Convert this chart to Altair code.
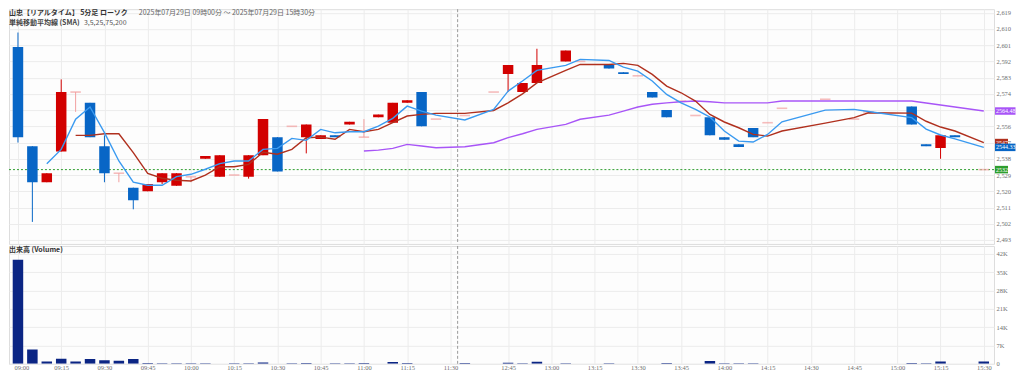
import altair as alt
import pandas as pd

# ---------------- data ----------------
morning = [f"{h:02d}:{m:02d}" for h in (9, 10, 11) for m in range(0, 60, 5) if (h, m) <= (11, 30)]
afternoon = [f"{h:02d}:{m:02d}" for h in (12, 13, 14, 15) for m in range(0, 60, 5)
             if (12, 30) <= (h, m) <= (15, 30)]
times = morning + afternoon  # 68 five-minute slots

open_ = [2600, 2545, 2525, 2542, 2575, 2569, 2545, 2530, 2522, 2520,
         2525, 2523, 2528, 2538, 2528, 2529, 2528, 2540, 2550, 2556,
         2550, 2549, 2551, 2557, 2550, 2561, 2558, 2569, 2575, 2560,
         None, 2562, None, 2575, 2585, 2575, 2580, None, 2592, 2592,
         None, 2590, 2586, 2584, 2575, 2565, 2570, 2562, 2561, 2550,
         2546, 2555, 2558, 2566, None, None, 2571, None, 2560, 2564,
         None, None, 2567, 2546, 2544, 2551, None, 2532]
high = [2608, 2545, 2530, 2582, 2575, 2569, 2551, 2530, 2522, 2524,
        2530, 2530, 2528, 2539.5, 2540, 2529, 2540, 2560, 2550, 2556,
        2557, 2551, 2551, 2558.5, 2560, 2562.5, 2569, 2570.5, 2575, 2560,
        None, 2562, None, 2575, 2590, 2580, 2599, None, 2598, 2592,
        None, 2590, 2586, 2584, 2575, 2565, 2570, 2562, 2561, 2550,
        2546, 2555, 2558, 2566, None, None, 2571, None, 2560, 2564,
        None, None, 2567, 2546, 2551, 2551, None, 2532]
low = [2547, 2503, 2525, 2542, 2564, 2550, 2525, 2525, 2510, 2520,
       2524, 2523, 2525, 2538, 2528, 2529, 2527, 2540, 2531, 2556,
       2541, 2549, 2550, 2557, 2550, 2561, 2558, 2569, 2556, 2560,
       None, 2562, None, 2575, 2575, 2575, 2580, None, 2592, 2592,
       None, 2588, 2585, 2584, 2572, 2561, 2570, 2562, 2551, 2548.5,
       2544.5, 2550, 2558, 2566, None, None, 2571, None, 2560, 2564,
       None, None, 2557, 2545, 2538, 2550, None, 2532]
close = [2550, 2525, 2530, 2575, 2575, 2550, 2530, 2530, 2515, 2524,
         2530, 2530, 2528, 2539.5, 2540, 2529, 2540, 2560, 2531, 2556,
         2557, 2551, 2550, 2558.5, 2550, 2562.5, 2569, 2570.5, 2556, 2560,
         None, 2562, None, 2575, 2590, 2580, 2590, None, 2598, 2592,
         None, 2588, 2585, 2584, 2572, 2561, 2570, 2562, 2551, 2548.5,
         2544.5, 2550, 2558, 2566, None, None, 2571, None, 2560, 2564,
         None, None, 2557, 2545, 2551, 2550, None, 2532]

sma3 = [None, None, 2535.3, 2543.2, 2559.9, 2566.7, 2552.5, 2536.8, 2525.1, 2523.3,
        2523.3, 2528.1, 2529.4, 2532.2, 2535.3, 2536.8, 2536.8, 2543.2, 2543.8, 2549.3,
        2548.2, 2554.3, 2552.4, 2553.0, 2553.0, 2556.1, 2560.4, 2567.2, 2564.4, 2562.2,
        None, 2559.5, None, 2565.4, 2575.5, 2581.1, 2587.0, None, 2589.8, 2593.1,
        None, 2592.5, 2588.8, 2586.6, 2581.1, 2573.7, 2569.0, 2565.4, 2561.1, 2553.4,
        2547.8, 2547.3, 2551.5, 2558.5, None, None, 2565.0, None, 2565.4, 2564.2,
        None, None, 2560.8, 2554.5, 2551.2, 2549.0, None, 2544.33]
sma5 = [None, None, None, None, 2551.0, 2551.0, 2551.9, 2551.9, 2541.4, 2529.9,
        2527.2, 2526.1, 2525.7, 2529.0, 2533.6, 2533.6, 2534.9, 2541.6, 2540.5, 2543.2,
        2549.7, 2550.0, 2548.8, 2554.3, 2553.0, 2554.3, 2558.0, 2561.7, 2562.6, 2563.2,
        None, 2563.2, None, 2564.8, 2569.0, 2574.0, 2580.1, None, 2587.0, 2590.3,
        None, 2590.3, 2590.9, 2589.8, 2584.8, 2578.3, 2574.6, 2570.0, 2562.6, 2558.4,
        2555.2, 2551.5, 2550.6, 2553.4, None, None, 2557.8, None, 2560.8, 2563.5,
        None, None, 2563.3, 2558.8, 2555.6, 2553.4, None, 2547.0]
sma25 = [None] * 24 + [
        2542.3, 2542.8, 2543.8, 2546.0, 2545.1, 2544.1,
        None, 2544.7, None, 2546.9, 2549.7, 2551.9, 2554.3, None, 2557.1, 2559.9,
        None, 2562.2, 2564.4, 2566.7, 2568.2, 2569.0, 2569.6, 2570.0, 2569.6, 2569.0,
        2569.0, 2569.0, 2569.0, 2570.0, None, None, 2570.0, None, 2570.0, 2570.0,
        None, None, 2570.0, 2568.9, 2567.8, 2566.7, None, 2564.48]

volume = [39800, 5500, 900, 1900, 900, 1800, 1400, 1150, 1800, 300,
          250, 200, 200, 250, 0, 200, 250, 500, 0, 250,
          300, 0, 250, 250, 300, 0, 700, 300, 0, 0,
          0, 350, 0, 0, 450, 200, 800, 0, 200, 0,
          0, 200, 0, 0, 0, 300, 0, 0, 1100, 200,
          200, 200, 0, 0, 0, 0, 0, 0, 0, 0,
          0, 0, 300, 200, 900, 0, 0, 900]

label_idx = [0, 3, 6, 9, 12, 15, 18, 21, 24, 27, 30, 34, 37, 40, 43, 46, 49, 52, 55, 58, 61, 64, 67]
session_break = 30.5
last_price = 2532
price_ticks = list(range(2493, 2620, 9))
vol_ticks = list(range(0, 42001, 7000))

tag_text = ["2564.48", "2547", "2544.33", "2532"]
tag_value = [2564.48, 2547.0, 2544.33, 2532.0]

title_main = "山忠【リアルタイム】 5分足 ローソク"
title_range = "2025年07月29日 09時00分 ～ 2025年07月29日 15時30分"
title_sma = "単純移動平均線 (SMA)"
title_sma_list = "3,5,25,75,200"
title_vol = "出来高 (Volume)"

for arr in (open_, high, low, close, sma3, sma5, sma25, volume):
    assert len(arr) == len(times)

# ---------------- tables ----------------
candles = pd.DataFrame({"i": range(len(times)), "t": times, "open": open_,
                        "high": high, "low": low, "close": close}).dropna()
candles["dir"] = ["up" if c > o else ("down" if c < o else "doji")
                  for o, c in zip(candles["open"], candles["close"])]

def series_df(arr):
    return pd.DataFrame([{"i": i, "v": v} for i, v in enumerate(arr) if v is not None])

vol_df = pd.DataFrame({"i": range(len(times)), "vol": volume})
tags = pd.DataFrame({"txt": tag_text, "v": tag_value})
one = pd.DataFrame({"k": [0]})

# ---------------- styles ----------------
RED = "#d20000"
BLUE = "#0866c6"
PINK = "#f2a0a0"
C3 = "#3a9af0"
C5 = "#b0301e"
C25 = "#a855f7"
GREEN = "#2e9e2e"
NAVY = "#0b2584"
GRID = "#ececec"
LBL = "#6f6f6f"
NUMFONT = "Liberation Serif"
JPFONT = "Noto Sans CJK JP"

W = 986
H_PRICE = 235
H_VOL = 118
xs = alt.Scale(domain=[-0.275, 67.363], nice=False, zero=False)
ys = alt.Scale(domain=[2490.79, 2620.94], nice=False, zero=False)
vs = alt.Scale(domain=[0, 45055], nice=False, zero=True)

arr_js = "[" + ",".join(f"'{t}'" for t in times) + "]"

x_axis_price = alt.Axis(values=label_idx, labels=False, ticks=False, domain=False,
                        grid=True, gridColor=GRID, title=None)
y_axis_price = alt.Axis(orient="right", values=price_ticks, labelFontSize=6.5, labelColor=LBL,
                        labelFont=NUMFONT, ticks=False, domain=False, grid=True,
                        gridColor=GRID, labelPadding=2, title=None)
x_axis_vol = alt.Axis(values=label_idx, labelExpr=f"{arr_js}[datum.value]", ticks=False,
                      domain=False, grid=True, gridColor=GRID, title=None,
                      labelFontSize=6.5, labelColor=LBL, labelFont=NUMFONT, labelPadding=1,
                      labelAlign={"condition": {"test": "datum.value == 0", "value": "left"},
                                  "value": "center"},
                      labelOffset={"condition": {"test": "datum.value == 0", "value": -4},
                                   "value": 0})
y_axis_vol = alt.Axis(orient="right", values=vol_ticks,
                      labelExpr="datum.value == 0 ? '0' : (datum.value / 1000) + 'K'",
                      labelFontSize=6.5, labelColor=LBL, labelFont=NUMFONT, ticks=False,
                      domain=False, grid=True, gridColor=GRID, labelPadding=2, title=None)

X = alt.X("i:Q", scale=xs, axis=x_axis_price)

def Y(field):
    return alt.Y(f"{field}:Q", scale=ys, axis=y_axis_price)

layers = []
# current price line
layers.append(alt.Chart(one).mark_rule(color=GREEN, strokeDash=[2, 2], strokeWidth=1)
              .encode(y=alt.Y(datum=last_price, scale=ys, axis=y_axis_price)))
# session break
layers.append(alt.Chart(one).mark_rule(color="#9a9a9a", strokeDash=[3, 2], strokeWidth=1)
              .encode(x=alt.X(datum=session_break, scale=xs, axis=x_axis_price)))
# wicks and bodies
for kind, col in (("up", RED), ("down", BLUE), ("doji", PINK)):
    layers.append(alt.Chart(candles).transform_filter(alt.datum.dir == kind)
                  .mark_rule(color=col, strokeWidth=1)
                  .encode(x=X, y=Y("low"), y2="high:Q"))
for kind, col in (("up", RED), ("down", BLUE)):
    layers.append(alt.Chart(candles).transform_filter(alt.datum.dir == kind)
                  .mark_bar(color=col, size=10.5, clip=True)
                  .encode(x=X, y=Y("open"), y2="close:Q"))
layers.append(alt.Chart(candles).transform_filter(alt.datum.dir == "doji")
              .mark_tick(color=PINK, orient="horizontal", size=10.5, thickness=1.6)
              .encode(x=X, y=Y("close")))
# moving averages
for arr, col in ((sma25, C25), (sma5, C5), (sma3, C3)):
    layers.append(alt.Chart(series_df(arr)).mark_line(color=col, strokeWidth=1.4)
                  .encode(x=X, y=Y("v")))
# value tags on the right
wide = "M0,-0.75L4.1,-0.75L4.1,0.75L0,0.75Z"
narrow = "M0,-0.75L2.6,-0.75L2.6,0.75L0,0.75Z"
for txt, col, shp in zip(tag_text, (C25, C5, BLUE, GREEN), (wide, narrow, wide, narrow)):
    base = alt.Chart(tags).transform_filter(alt.datum.txt == txt)
    layers.append(base.mark_point(shape=shp, size=100, filled=True, opacity=1, color=col,
                                  strokeWidth=0)
                  .encode(x=alt.value(987), y=Y("v")))
    layers.append(base.mark_text(align="left", baseline="middle", fontSize=6, color="white",
                                 font=NUMFONT)
                  .encode(x=alt.value(988), y=Y("v"), text="txt:N"))

# header texts
def txt(s, x, y, bold=False, color="#333333"):
    return (alt.Chart(one)
            .mark_text(text=s, align="left", baseline="top", fontSize=7, font=JPFONT,
                       fontWeight="bold" if bold else "normal", color=color)
            .encode(x=alt.value(x), y=alt.value(y)))

layers += [txt(title_main, 0, 0, True), txt(title_range, 130, 0, False, "#666666"),
           txt(title_sma, 0, 10, True, "#444444"), txt(title_sma_list, 75, 10, False, "#555555")]

price = alt.layer(*layers).properties(width=W, height=H_PRICE)

XV = alt.X("i:Q", scale=xs, axis=x_axis_vol)
vol = alt.layer(
    alt.Chart(vol_df).mark_bar(color=NAVY, size=10.5, clip=True)
    .encode(x=XV, y=alt.Y("vol:Q", scale=vs, axis=y_axis_vol)),
    alt.Chart(one).mark_rule(color="#9a9a9a", strokeDash=[3, 2], strokeWidth=1)
    .encode(x=alt.X(datum=session_break, scale=xs, axis=x_axis_vol)),
    txt(title_vol, 0, 0, True),
).properties(width=W, height=H_VOL)

chart = (alt.vconcat(price, vol, spacing=0)
         .properties(padding={"left": 0, "top": 0, "right": 0, "bottom": 0},
                     autosize=alt.AutoSizeParams(type="pad", contains="content"))
         .configure(padding={"left": 0, "top": 0, "right": 0, "bottom": 0})
         .configure_view(stroke="#dddddd", fill="#fdfdfd"))

chart.save("out.html", embed_options={"renderer": "svg", "actions": False})
